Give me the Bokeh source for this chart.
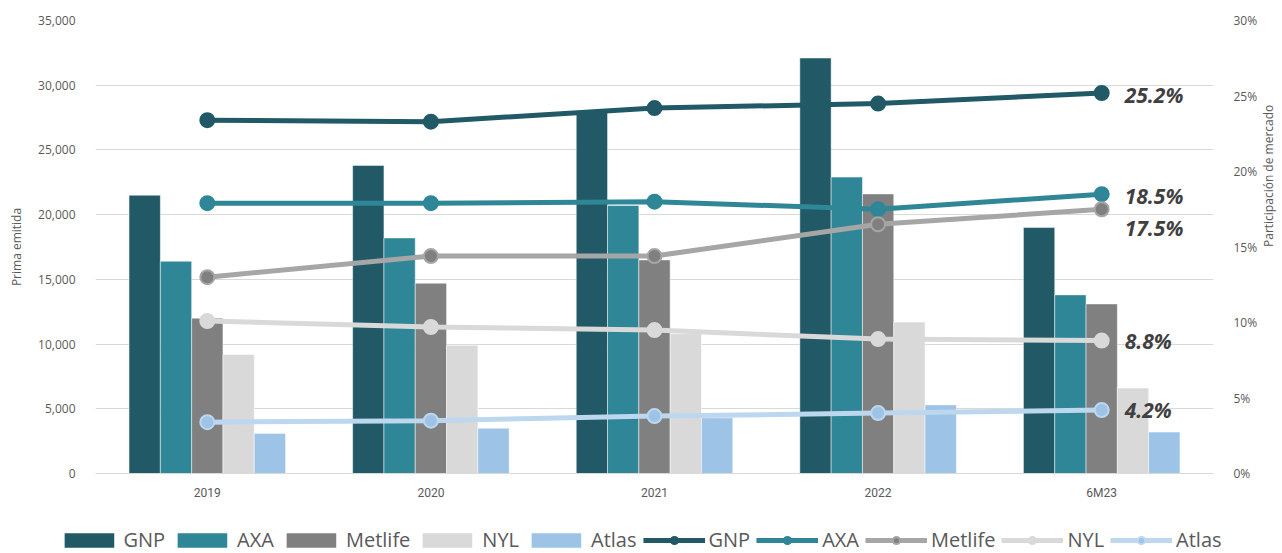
import math
from bokeh.plotting import figure
from bokeh.layouts import column
from bokeh.models import (FactorRange, Range1d, LinearAxis, NumeralTickFormatter,
                          FixedTicker, Legend, LegendItem, ColumnDataSource)
from bokeh.transform import dodge
from bokeh.core.properties import value
from bokeh.embed import file_html
from bokeh.resources import INLINE

# ---- data ----
categories = ["2019", "2020", "2021", "2022", "6M23"]
companies = ["GNP", "AXA", "Metlife", "NYL", "Atlas"]

prima_gnp = [21500, 23800, 27900, 32100, 19000]
prima_axa = [16400, 18200, 20700, 22900, 13800]
prima_metlife = [12000, 14700, 16500, 21600, 13100]
prima_nyl = [9200, 9900, 10800, 11700, 6600]
prima_atlas = [3100, 3500, 4300, 5300, 3200]

part_gnp = [0.234, 0.233, 0.242, 0.245, 0.252]
part_axa = [0.179, 0.179, 0.180, 0.175, 0.185]
part_metlife = [0.130, 0.144, 0.144, 0.165, 0.175]
part_nyl = [0.101, 0.097, 0.095, 0.089, 0.088]
part_atlas = [0.034, 0.035, 0.038, 0.040, 0.042]

left_ticks = [0, 5000, 10000, 15000, 20000, 25000, 30000, 35000]
right_ticks = [0, 0.05, 0.10, 0.15, 0.20, 0.25, 0.30]

prima = [prima_gnp, prima_axa, prima_metlife, prima_nyl, prima_atlas]
part = [part_gnp, part_axa, part_metlife, part_nyl, part_atlas]

# ---- styles ----
bar_colors = ["#215A66", "#2E8697", "#808080", "#D9D9D9", "#9DC3E6"]
line_colors = ["#215A66", "#2E8697", "#A6A6A6", "#D9D9D9", "#BDD7EE"]
marker_fill = ["#215A66", "#2E8697", "#808080", "#D9D9D9", "#9DC3E6"]
offsets = [-0.28, -0.14, 0.0, 0.14, 0.28]
label_y_offsets = [2, 2, 19, 0, 0]
FONT = "Open Sans"
TXT = "#595959"
W = 1279

p = figure(x_range=FactorRange(*categories), y_range=Range1d(0, 35000),
           frame_width=1118, frame_height=453,
           min_border_left=95, min_border_right=66, min_border_top=20,
           min_border_bottom=30,
           output_backend="svg", toolbar_location=None)
p.extra_y_ranges = {"pct": Range1d(0, 0.30)}
p.outline_line_color = None
p.background_fill_color = "white"
p.border_fill_color = "white"

src = ColumnDataSource(dict(cat=categories, **{c: v for c, v in zip(companies, prima)},
                            **{c + "_p": v for c, v in zip(companies, part)}))

for c, col, off in zip(companies, bar_colors, offsets):
    p.vbar(x=dodge("cat", off, range=p.x_range), top=c, width=0.14, source=src,
           fill_color=col, line_color="white", line_width=0.8, line_alpha=0.6)

for c, lc, mf in zip(companies, line_colors, marker_fill):
    p.line(x="cat", y=c + "_p", source=src, y_range_name="pct",
           line_color=lc, line_width=5)
    p.scatter(x="cat", y=c + "_p", source=src, y_range_name="pct",
              size=14, fill_color=mf, line_color=lc, line_width=2)

# end labels
last_vals = [v[-1] for v in part]
lab_src = ColumnDataSource(dict(x=[categories[-1]] * len(last_vals), y=last_vals,
                                t=["%.1f%%" % (v * 100) for v in last_vals],
                                yo=label_y_offsets))
p.text(x="x", y="y", text="t", y_offset="yo", x_offset=23, source=lab_src,
       y_range_name="pct", text_font=value(FONT), text_font_style="bold italic",
       text_font_size="21px", text_color="#404040", text_baseline="middle",
       text_align="left")

# axes
p.yaxis.ticker = FixedTicker(ticks=left_ticks)
p.yaxis.formatter = NumeralTickFormatter(format="0,0")
p.yaxis.axis_label = "Prima emitida"
yr = LinearAxis(y_range_name="pct", ticker=FixedTicker(ticks=right_ticks),
                formatter=NumeralTickFormatter(format="0%"),
                axis_label="Participación de mercado")
p.add_layout(yr, "right")
try:
    yr.axis_label_orientation = math.pi / 2
except Exception:
    pass

for ax in [p.yaxis[0], yr]:
    ax.axis_line_color = None
    ax.major_tick_line_color = None
    ax.minor_tick_line_color = None
    ax.major_label_text_font = FONT
    ax.major_label_text_font_size = "12px"
    ax.major_label_text_color = TXT
    ax.axis_label_text_font = FONT
    ax.axis_label_text_font_size = "12px"
    ax.axis_label_text_color = TXT
    ax.axis_label_text_font_style = "normal"
    ax.major_label_standoff = 14
    ax.axis_label_standoff = 10
yr.axis_label_standoff = 8

p.xaxis.axis_line_color = "#D9D9D9"
p.xaxis.major_tick_line_color = None
p.xaxis.minor_tick_line_color = None
p.xaxis.major_label_text_font = "Roboto"
p.xaxis.major_label_text_font_size = "12px"
p.xaxis.major_label_text_color = TXT
p.xaxis.major_label_standoff = 6

p.xgrid.grid_line_color = None
p.ygrid.grid_line_color = "#D9D9D9"
p.ygrid.ticker = FixedTicker(ticks=left_ticks)

# ---- legend strip (separate figure; swatch renderers hold one NaN row, so draw nothing) ----
lg = figure(frame_width=W, frame_height=50, x_range=Range1d(0, 1), y_range=Range1d(0, 1),
            min_border=0, output_backend="svg", toolbar_location=None)
lg.axis.visible = False
lg.grid.visible = False
lg.outline_line_color = None
nan_src = ColumnDataSource(dict(x=[float("nan")], y=[float("nan")]))
items = []
for c, col in zip(companies, bar_colors):
    r = lg.vbar(x="x", top="y", width=0.1, source=nan_src, fill_color=col, line_color=None)
    items.append(LegendItem(label=c, renderers=[r]))
for c, lc, mf in zip(companies, line_colors, marker_fill):
    l = lg.line(x="x", y="y", source=nan_src, line_color=lc, line_width=5)
    m = lg.scatter(x="x", y="y", source=nan_src, size=14, fill_color=mf,
                   line_color=lc, line_width=2)
    items.append(LegendItem(label=c, renderers=[l, m]))

legend = Legend(items=items, orientation="horizontal", location="bottom_center",
                glyph_width=62, glyph_height=18, label_standoff=4, spacing=6,
                padding=0, margin=0, border_line_color=None,
                background_fill_alpha=0,
                label_text_font=FONT, label_text_font_size="20px",
                label_text_color=TXT, label_height=22)
lg.add_layout(legend, "center")

layout = column(p, lg, spacing=0)
open("out.html", "w").write(file_html(layout, INLINE))
